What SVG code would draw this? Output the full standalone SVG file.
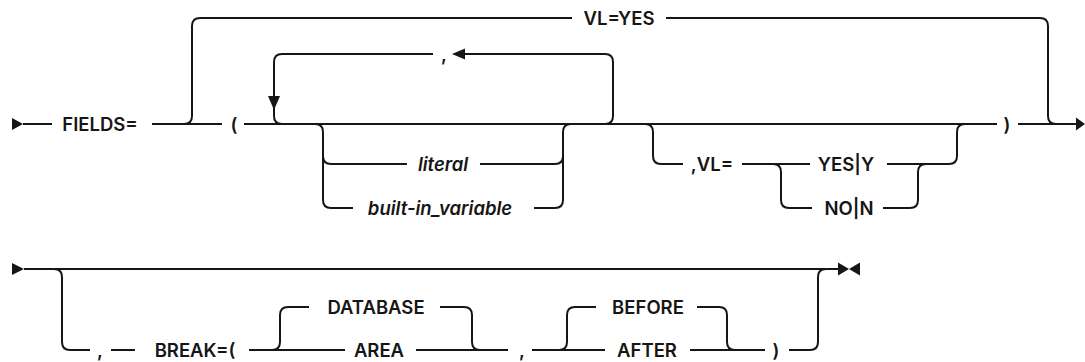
<svg xmlns="http://www.w3.org/2000/svg" width="1085" height="362" viewBox="0 0 1085 362">
<style>
.c{fill:none;stroke:#161616;stroke-width:2;}
.a{fill:#161616;stroke:none;}
text{font-family:Inter,"Noto Sans","Liberation Sans",sans-serif;font-size:18.5px;font-weight:600;fill:#161616;text-anchor:middle;}
.i{font-style:italic;}
</style>
<rect width="1085" height="362" fill="#fff"/>
<g id="connectors">
<path class="c" d="M23,124 H52 M152,124 H222 M244,124 H997 M1018,124 H1077"/>
<path class="c" d="M184,124 Q192,124 192,116 V26 Q192,18 200,18 H572 M666,18 H1040 Q1048,18 1048,26 V116 Q1048,124 1056,124"/>
<path class="c" d="M282,124 Q274,124 274,116 V62 Q274,54 282,54 H433 M465,54 H605 Q613,54 613,62 V116 Q613,124 605,124"/>
<path class="c" d="M315,124 Q323,124 323,132 V200 Q323,208 331,208 H353 M323,156 Q323,164 331,164 H407 M480,164 H555 Q563,164 563,156 M534,208 H555 Q563,208 563,200 V132 Q563,124 571,124"/>
<path class="c" d="M645,124 Q653,124 653,132 V156 Q653,164 661,164 H683 M742,164 H810 M773,164 Q781,164 781,172 V200 Q781,208 789,208 H812 M883,208 H910 Q918,208 918,200 V172 Q918,164 926,164 M887,164 H949 Q957,164 957,156 V132 Q957,124 965,124"/>
<path class="c" d="M24,269 H838 M54,269 Q62,269 62,277 V342 Q62,350 70,350 H90 M111,350 H135 M249,350 H345 M272,350 Q280,350 280,342 V315 Q280,307 288,307 H309 M440,307 H464 Q472,307 472,315 V342 Q472,350 480,350 M416,350 H508 M532,350 H605 M559,350 Q567,350 567,342 V315 Q567,307 575,307 H596 M697,307 H719 Q727,307 727,315 V342 Q727,350 735,350 M690,350 H765 M789,350 H810 Q818,350 818,342 V277 Q818,269 826,269"/>
<polygon class="a" points="12,118 23,124 12,130"/>
<polygon class="a" points="1076,117.5 1085,124 1076,130.5"/>
<polygon class="a" points="268,96 280,96 274,110"/>
<polygon class="a" points="465,48.5 465,59.5 452,54"/>
<polygon class="a" points="12,263 24,269 12,275"/>
<polygon class="a" points="838,262.5 849,269 838,275.5"/>
<polygon class="a" points="860,262.5 849,269 860,275.5"/>
</g>
<g id="n-fields"><text x="100" y="131">FIELDS=</text></g>
<g id="n-lparen"><text x="234" y="131">(</text></g>
<g id="n-rparen"><text x="1007" y="131">)</text></g>
<g id="n-vlyes"><text x="619" y="25">VL=YES</text></g>
<g id="n-loopcomma"><text x="444" y="61">,</text></g>
<g id="n-literal"><text class="i" x="443" y="171">literal</text></g>
<g id="n-builtin"><text class="i" x="440" y="215">built-in_variable</text></g>
<g id="n-vl"><text x="712" y="171">,VL=</text></g>
<g id="n-yes"><text x="846" y="171">YES|Y</text></g>
<g id="n-no"><text x="849" y="215">NO|N</text></g>
<g id="n-comma1"><text x="100" y="357">,</text></g>
<g id="n-break"><text x="195" y="357">BREAK=(</text></g>
<g id="n-database"><text x="376" y="314">DATABASE</text></g>
<g id="n-area"><text x="379" y="357">AREA</text></g>
<g id="n-comma2"><text x="522" y="357">,</text></g>
<g id="n-before"><text x="648" y="314">BEFORE</text></g>
<g id="n-after"><text x="647" y="357">AFTER</text></g>
<g id="n-rparen2"><text x="776" y="357">)</text></g>
</svg>
